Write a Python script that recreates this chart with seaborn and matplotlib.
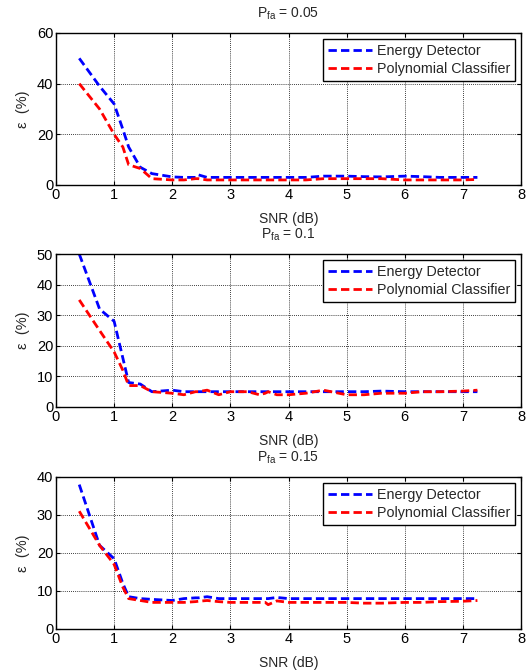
import numpy as np
import pandas as pd
import matplotlib
matplotlib.use("Agg")
import matplotlib.pyplot as plt
import seaborn as sns

snr = [0.4, 0.75, 1.0, 1.15, 1.25, 1.45, 1.65, 2.0, 2.2, 2.4, 2.45, 2.6, 2.8, 3.0, 3.3,
       3.5, 3.6, 3.65, 3.8, 4.0, 4.3, 4.6, 5.0, 5.3, 5.6, 6.0, 6.3, 6.6, 7.0, 7.25]

ed_005 = [50, 39, 32, 22, 15, 7, 4.5, 3.2, 3, 3, 4, 3, 3, 3, 3,
          3, 3, 3, 3, 3, 3, 3.5, 3.5, 3.3, 3.2, 3.5, 3.3, 3, 3, 3]
pc_005 = [40, 30, 20, 15, 8, 6.5, 2.5, 2, 2, 2.5, 2.5, 2, 2, 2, 2,
          2, 2, 2, 2, 2, 2, 2.5, 2.5, 2.5, 2.5, 2, 2, 2, 2, 2.2]

ed_01 = [50, 32, 28, 16, 8, 7.5, 5, 5.5, 5, 5, 5, 5, 5, 5, 5,
         5, 5, 5, 5, 5, 5, 5, 5, 5, 5.2, 5, 5, 5, 5, 5]
pc_01 = [35, 25, 18, 12, 7, 7, 5, 4.5, 4, 5, 5, 5.5, 4, 5, 5,
         4, 4.5, 5, 4, 4, 4.5, 5.5, 4, 4, 4.5, 4.5, 5, 5, 5.2, 5.5]

ed_015 = [38, 22, 18.5, 12, 8.5, 8, 7.8, 7.5, 8, 8.2, 8.2, 8.5, 8, 8, 8,
          8, 8, 8, 8.3, 8, 8, 8, 8, 8, 8, 8, 8, 8, 8, 8]
pc_015 = [31, 22, 17, 11, 8, 7.5, 7, 7, 7, 7.2, 7.3, 7.5, 7.2, 7, 7,
          7, 7, 6.4, 7.4, 7, 7, 7, 7, 6.8, 6.8, 7, 7, 7.2, 7.3, 7.5]

titles = ["0.05", "0.1", "0.15"]
ylims = [60, 50, 40]
yticks = [[0, 20, 40, 60], [0, 10, 20, 30, 40, 50], [0, 10, 20, 30, 40]]
series = [(ed_005, pc_005), (ed_01, pc_01), (ed_015, pc_015)]

sns.set_style("white")
plt.rcParams['font.family'] = ['Liberation Sans', 'DejaVu Sans']
plt.rcParams['mathtext.default'] = 'regular'

fig = plt.figure(figsize=(5.27, 6.70), dpi=100)
W, H = 527, 670
boxes = [(33, 185), (254, 407), (477, 629)]
left, right = 56, 521

for i, (top, bot) in enumerate(boxes):
    ax = fig.add_axes([left / W, 1 - bot / H, (right - left) / W, (bot - top) / H])
    ed, pc = series[i]
    df = pd.DataFrame({
        "SNR": snr * 2,
        "val": ed + pc,
        "method": ["Energy Detector"] * len(snr) + ["Polynomial Classifier"] * len(snr),
    })
    sns.lineplot(data=df, x="SNR", y="val", hue="method",
                 palette={"Energy Detector": "#0000ff", "Polynomial Classifier": "#ff0000"},
                 ax=ax, linewidth=2.0, estimator=None, sort=False)
    for ln in ax.get_lines():
        ln.set_dashes([3, 1.5])
    ax.set_xlim(0, 8)
    ax.set_ylim(0, ylims[i])
    ax.set_xticks(range(0, 9))
    ax.set_yticks(yticks[i])
    ax.grid(True, color="black", linestyle=(0, (1, 1.5)), linewidth=0.6)
    for s in ax.spines.values():
        s.set_color("black")
        s.set_linewidth(1.0)
    ax.tick_params(axis="both", labelsize=10.5, direction="in", length=3, color="black",
                   labelcolor="black", pad=2, top=True, right=True, bottom=True, left=True)
    ax.set_xlabel("SNR (dB)", fontsize=10, labelpad=7)
    ax.set_ylabel("ε  (%)", fontsize=10.5, labelpad=5)
    ax.set_title(r"P$_{fa}$ = " + titles[i], fontsize=10, pad=11)
    leg = ax.legend(loc="upper right", fontsize=10.3, frameon=True, fancybox=False,
                    edgecolor="black", framealpha=1, borderpad=0.35, handlelength=3.1,
                    labelspacing=0.28, borderaxespad=0.4, handletextpad=0.35)
    leg.get_frame().set_linewidth(1.0)
    for h in leg.get_lines():
        h.set_dashes([3, 1.5])
        h.set_linewidth(2.0)

fig.savefig("out.png", dpi=100)
